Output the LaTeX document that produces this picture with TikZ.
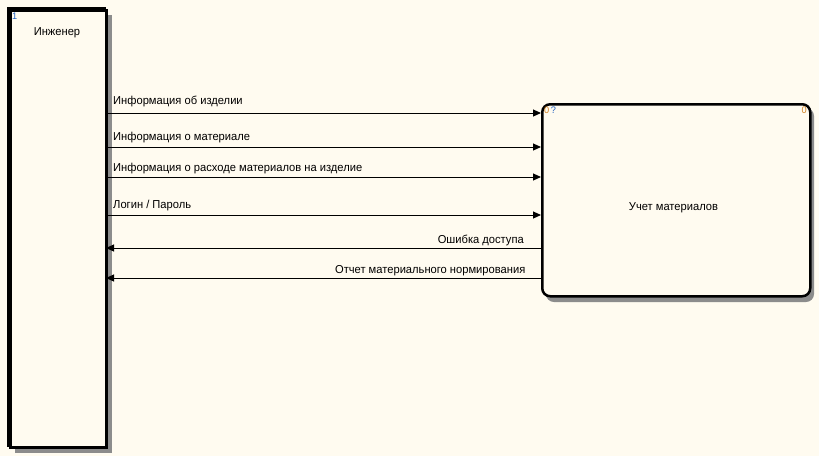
\documentclass[tikz,border=0pt]{standalone}
\usepackage{fontspec}
\setmainfont[FakeStretch=0.97]{Liberation Sans}
\usetikzlibrary{arrows.meta}
\definecolor{cream}{HTML}{FFFBF0}
\definecolor{shad}{HTML}{8C8C8C}
\definecolor{numblue}{HTML}{2060C0}
\definecolor{numorange}{HTML}{D08020}
\begin{document}
\begin{tikzpicture}[x=1pt,y=-1pt,
  lbl/.style={font=\fontsize{11.5}{13}\selectfont, inner sep=0pt},
  tiny/.style={font=\fontsize{9.5}{10}\selectfont, inner sep=0pt},
  arr/.style={line width=1pt, -{Triangle[length=8pt,width=7pt]}}]
\useasboundingbox[fill=cream] (0,0) rectangle (819,456);
% shadows
\fill[shad] (106,15) rectangle (112,453);
\fill[shad] (15,447) rectangle (112,453);
\fill[shad, rounded corners=8pt] (546,108) rectangle (814,302);
% engineer box
\node[draw, line width=3pt, fill=cream, minimum width=96pt, minimum height=437pt,
      anchor=north west, inner sep=0pt] (eng) at (8.5,8.5) {};
\fill (7,7) rectangle (11.5,447);
\fill (7,7) rectangle (106,10.5);
\node[lbl] (engt) at (57,33) {Инженер};
\node[tiny, text=numblue, anchor=north west] (engn) at (12,13) {1};
% process box
\node[draw, line width=2.5pt, fill=cream, rounded corners=8pt, minimum width=268pt,
      minimum height=192pt, anchor=north west, inner sep=0pt] (uch) at (541,103) {};
\node[lbl] (ucht) at (673.5,208) {Учет материалов};
\node[tiny, anchor=north west] (uchn) at (544,107) {\textcolor{numorange}{0}\,\textcolor{numblue}{?}};
\node[tiny, text=numorange, anchor=north east] (uchn2) at (807,107) {0};
% coordinates on borders
\coordinate (a1) at (106,113);
\coordinate (a2) at (106,147);
\coordinate (a3) at (106,177);
\coordinate (a4) at (106,215);
\coordinate (a5) at (106,248);
\coordinate (a6) at (106,278);
% connectors
\draw[arr] (a1) -- (a1 -| uch.west);
\draw[arr] (a2) -- (a2 -| uch.west);
\draw[arr] (a3) -- (a3 -| uch.west);
\draw[arr] (a4) -- (a4 -| uch.west);
\draw[arr] (a5 -| uch.west) -- (a5);
\draw[arr] (a6 -| uch.west) -- (a6);
% labels
\node[lbl, anchor=base west] (l1) at (113,104.5) {Информация об изделии};
\node[lbl, anchor=base west] (l2) at (113,140) {Информация о материале};
\node[lbl, anchor=base west] (l3) at (113,171.5) {Информация о расходе материалов на изделие};
\node[lbl, anchor=base west] (l4) at (113,208.5) {Логин / Пароль};
\node[lbl, anchor=base east] (l5) at (524,243) {Ошибка доступа};
\node[lbl, anchor=base east] (l6) at (525.5,273) {Отчет материального нормирования};
\end{tikzpicture}
\end{document}
